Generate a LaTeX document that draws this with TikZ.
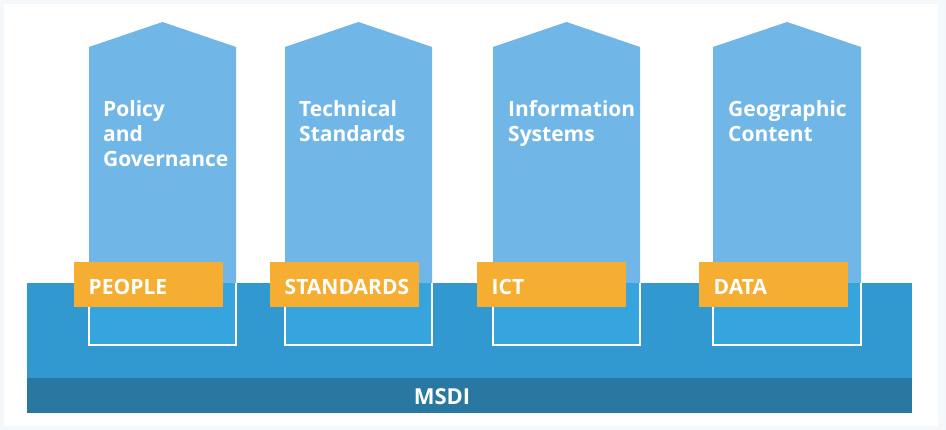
\documentclass[tikz,border=0pt]{standalone}
\usepackage{fontspec}
\setmainfont{Open Sans}
\definecolor{pillarblue}{RGB}{112,182,230}
\definecolor{baseblue}{RGB}{50,152,208}
\definecolor{footblue}{RGB}{54,165,222}
\definecolor{darkband}{RGB}{41,120,162}
\definecolor{tagorange}{RGB}{246,174,50}
\definecolor{edgegrey}{RGB}{245,248,251}
\begin{document}
\begin{tikzpicture}[x=1pt, y=-1pt,
  pillar/.style={fill=pillarblue},
  foot/.style={draw=white, line width=2pt},
  caption/.style={anchor=base west, align=left, text=white, font=\bfseries\fontsize{21}{25}\selectfont, inner sep=0pt},
  tag/.style={anchor=north west, fill=tagorange, text=white, font=\bfseries\fontsize{21}{22}\selectfont,
    minimum height=45pt, text width=120pt, text height=19pt, text depth=0pt, inner xsep=14.5pt, align=left}]
% Background
\fill[edgegrey] (0,0) rectangle (946,430);
\fill[white] (4,4) rectangle (938,426);
\useasboundingbox (0,0) rectangle (946,430);

% Pillars
\fill[pillar] (89,345) -- (89,47) -- (162.5,22) -- (236,47) -- (236,345) -- cycle;
\fill[pillar] (285,345) -- (285,47) -- (358.5,22) -- (432,47) -- (432,345) -- cycle;
\fill[pillar] (493,345) -- (493,47) -- (566.5,22) -- (640,47) -- (640,345) -- cycle;
\fill[pillar] (713,345) -- (713,47) -- (787,22) -- (861,47) -- (861,345) -- cycle;

% Base and dark band
\fill[baseblue] (27,283) rectangle (912,378);
\fill[darkband] (27,378) rectangle (912,413);

% Pillar feet inside the base
\fill[footblue] (89,283) rectangle (236,345);
\fill[footblue] (285,283) rectangle (432,345);
\fill[footblue] (493,283) rectangle (640,345);
\fill[footblue] (713,283) rectangle (861,345);
\draw[foot] (89,283) -- (89,345) -- (236,345) -- (236,283);
\draw[foot] (285,283) -- (285,345) -- (432,345) -- (432,283);
\draw[foot] (493,283) -- (493,345) -- (640,345) -- (640,283);
\draw[foot] (713,283) -- (713,345) -- (861,345) -- (861,283);

% Pillar titles (anchored at the baseline of the last line)
\node[caption] (policy) at (103,167) {Policy\\and\\Governance};
\node[caption] (technical) at (299,142) {Technical\\Standards};
\node[caption] (information) at (508,142) {Information\\Systems};
\node[caption] (geographic) at (728,142) {Geographic\\Content};

% Orange tags
\node[tag] (people) at (74,262) {PEOPLE};
\node[tag] (standards) at (270,262) {STANDARDS};
\node[tag] (ict) at (477,262) {ICT};
\node[tag] (data) at (699,262) {DATA};

% Bottom label
\node[text=white, font=\bfseries\fontsize{22}{22}\selectfont] (msdi) at (442,397) {MSDI};

\end{tikzpicture}
\end{document}
